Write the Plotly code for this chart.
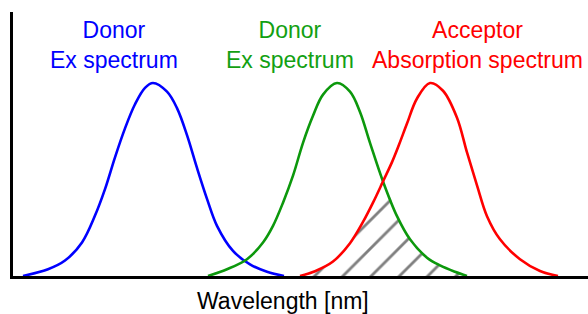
import plotly.graph_objects as go

# Wavelength (arbitrary nm scale) and normalised intensity
donor1_wl = [405, 417.5, 426, 434.5, 441, 446, 451, 456, 461, 466, 470, 477, 482, 487, 492, 497, 502, 510, 518.5, 527, 535.5]
donor1_val = [0.0, 0.035, 0.08, 0.174, 0.313, 0.45, 0.615, 0.765, 0.89, 0.975, 1.0, 0.955, 0.87, 0.73, 0.56, 0.40, 0.26, 0.13, 0.06, 0.022, 0.0]

donor2_wl = [497.5, 507, 517, 525, 530, 535, 540, 545, 550, 555, 562, 568.5, 573.5, 578.5, 585, 592, 598.5, 607, 613.5, 621, 627]
donor2_val = [0.0, 0.035, 0.087, 0.174, 0.26, 0.38, 0.52, 0.69, 0.83, 0.94, 1.0, 0.955, 0.85, 0.69, 0.49, 0.31, 0.19, 0.095, 0.055, 0.022, 0.0]

acceptor_wl = [543.5, 551, 560, 568.5, 575, 580, 585, 589.5, 593, 597, 602, 608.5, 615, 622, 627, 632, 637, 643.5, 653.5, 663.5, 672.5]
acceptor_val = [0.0, 0.025, 0.075, 0.17, 0.28, 0.38, 0.49, 0.59, 0.68, 0.79, 0.92, 1.0, 0.96, 0.82, 0.64, 0.47, 0.31, 0.19, 0.087, 0.026, 0.0]

crossing_wl = 585  # where donor emission and acceptor absorption intersect

labels = ["Donor<br>Ex spectrum", "Donor<br>Ex spectrum", "Acceptor<br>Absorption spectrum"]
label_colors = ["#0000ff", "#12a012", "#ff0000"]
line_colors = ["#0000ff", "#0c980c", "#ff0000"]

# overlap region: acceptor rising edge up to the crossing, then donor falling edge
ov_wl = [w for w in acceptor_wl if w <= crossing_wl] + [w for w in donor2_wl if w > crossing_wl]
ov_val = [v for w, v in zip(acceptor_wl, acceptor_val) if w <= crossing_wl] + \
         [v for w, v in zip(donor2_wl, donor2_val) if w > crossing_wl]

fig = go.Figure()
fig.add_trace(go.Scatter(
    x=ov_wl, y=ov_val, mode="lines", line=dict(width=0, shape="spline"),
    fill="tozeroy", fillcolor="rgba(0,0,0,0)",
    fillpattern=dict(shape="/", fgcolor="black", bgcolor="white", size=20, solidity=0.14),
    hoverinfo="skip", showlegend=False))

for wl, val, col in [(donor1_wl, donor1_val, line_colors[0]),
                     (donor2_wl, donor2_val, line_colors[1]),
                     (acceptor_wl, acceptor_val, line_colors[2])]:
    fig.add_trace(go.Scatter(x=wl, y=val, mode="lines",
                             line=dict(color=col, width=2.6, shape="spline", smoothing=1.0),
                             showlegend=False))

label_x = [0.1757, 0.4817, 0.807]
for txt, col, lx in zip(labels, label_colors, label_x):
    fig.add_annotation(text=txt, xref="paper", yref="paper", x=lx, y=0.875,
                       xanchor="center", yanchor="middle", showarrow=False,
                       font=dict(family="Liberation Sans, Arial", size=23, color=col))

fig.add_annotation(text="Wavelength [nm]", xref="paper", yref="paper", x=0.4687, y=-0.094,
                   xanchor="center", yanchor="middle", showarrow=False,
                   font=dict(family="Liberation Sans, Arial", size=23, color="black"))

fig.update_layout(
    width=588, height=314,
    margin=dict(l=13, r=0, t=12, b=38),
    paper_bgcolor="white", plot_bgcolor="white",
    xaxis=dict(range=[400, 687.5], showline=True, linecolor="black", linewidth=3,
               showgrid=False, zeroline=False, showticklabels=False, ticks=""),
    yaxis=dict(range=[0, 1.368], showline=True, linecolor="black", linewidth=3,
               showgrid=False, zeroline=False, showticklabels=False, ticks=""),
)

fig.write_html("out.html", config={"displayModeBar": False},
               post_script="document.body.style.margin='0';document.body.style.overflow='hidden';")
